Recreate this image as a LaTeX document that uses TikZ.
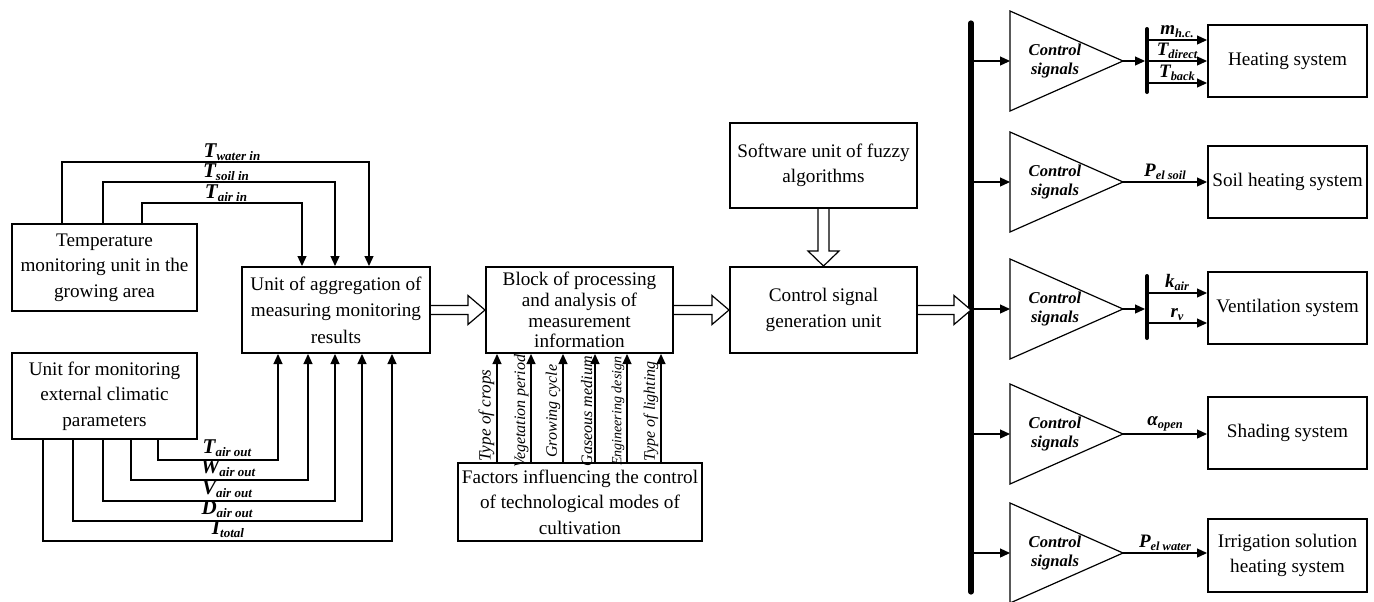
\documentclass[tikz,border=0pt]{standalone}
\usepackage{fontspec}
\setmainfont{Liberation Serif}
\usetikzlibrary{arrows.meta,calc}
\newcommand\symL[2]{{\fontsize{10.5}{11}\selectfont\bfseries\itshape #1\raisebox{-0.35ex}{\fontsize{6.5}{7}\selectfont #2}}}
\newcommand\symR[2]{{\fontsize{9.5}{10}\selectfont\bfseries\itshape #1\raisebox{-0.35ex}{\fontsize{6.2}{7}\selectfont #2}}}
\newcommand\hollowR[2]{\draw[hollow] ($(#1)+(0,-4.5)$) -- ($(#2)+(-17,-4.5)$) -- ($(#2)+(-17,-14.5)$) -- (#2) -- ($(#2)+(-17,14.5)$) -- ($(#2)+(-17,4.5)$) -- ($(#1)+(0,4.5)$);}
\newcommand\ctri[2]{%
  \draw[tri] (1010,#2-50) -- (1123,#2) -- (1010,#2+50) -- cycle;
  \coordinate (#1w) at (1010,#2);
  \coordinate (#1e) at (1123,#2);
  \node[ctext] (#1t) at (1055,#2) {Control\\signals};
}
\begin{document}
\begin{tikzpicture}[x=0.5pt,y=-0.5pt,
  box/.style={draw,line width=1pt,align=center,inner sep=0pt,font=\fontsize{9.6}{12.8}\selectfont},
  conn/.style={line width=0.6pt},
  arr/.style={conn,-{Triangle[length=5pt,width=4.5pt]}},
  hollow/.style={line width=0.6pt,fill=white},
  tri/.style={line width=0.6pt},
  bus/.style={line width=2.6pt,line cap=round},
  sbus/.style={line width=2pt,line cap=round},
  ctext/.style={align=center,inner sep=0pt,font=\fontsize{8.3}{9.2}\selectfont\bfseries\itshape},
  vlab/.style={font=\fontsize{8}{8}\selectfont\itshape,sloped,above,inner sep=1pt,midway},
  lab/.style={inner sep=1pt,anchor=south},
  slab/.style={above,inner sep=1pt}]
\useasboundingbox (0,0) rectangle (1374,601);

% boxes
\node[box,minimum width=92.5pt,minimum height=43.5pt] (temp) at (104.5,267.5) {Temperature\\monitoring unit in the\\growing area};
\node[box,minimum width=92.5pt,minimum height=43pt] (ext) at (104.5,396) {Unit for monitoring\\external climatic\\parameters};
\node[box,minimum width=94pt,minimum height=43pt,font=\fontsize{9.6}{13.2}\selectfont] (agg) at (336,310) {Unit of aggregation of\\measuring monitoring\\results};
\node[box,minimum width=93.5pt,minimum height=43pt,font=\fontsize{9.6}{10.4}\selectfont] (blk) at (579.5,310) {Block of processing\\and analysis of\\measurement\\information};
\node[box,minimum width=122pt,minimum height=39pt] (fac) at (580,502) {Factors influencing the control\\of technological modes of\\cultivation};
\node[box,minimum width=93.5pt,minimum height=42.5pt] (sw) at (823.5,165.5) {Software unit of fuzzy\\algorithms};
\node[box,minimum width=93.5pt,minimum height=43pt] (csg) at (823.5,310) {Control signal\\generation unit};
\node[box,minimum width=79.5pt,minimum height=36pt] (heat) at (1287.5,61) {Heating system};
\node[box,minimum width=79.5pt,minimum height=36pt] (soil) at (1287.5,182) {Soil heating system};
\node[box,minimum width=79.5pt,minimum height=36pt] (vent) at (1287.5,308) {Ventilation system};
\node[box,minimum width=79.5pt,minimum height=36pt] (shade) at (1287.5,433) {Shading system};
\node[box,minimum width=79.5pt,minimum height=36.5pt] (irr) at (1287.5,555.5) {Irrigation solution\\heating system};

% temperature inputs
\draw[arr] ([xshift=25.5pt]temp.north west) -- ++(0,-61) -| ([xshift=64pt]agg.north west);
\draw[arr] ([xshift=46pt]temp.north west) -- ++(0,-41) -| ([xshift=47pt]agg.north west);
\draw[arr] ([xshift=65.5pt]temp.north west) -- ++(0,-20) -| ([xshift=30.5pt]agg.north west);
\node[lab] (Lw) at (232,163) {\symL{T}{water in}};
\node[lab] (Ls) at (226,183) {\symL{T}{soil in}};
\node[lab] (La) at (226,204) {\symL{T}{air in}};

% external inputs
\draw[arr] ([xshift=73.5pt]ext.south west) -- ++(0,20) -| ([xshift=18.5pt]agg.south west);
\draw[arr] ([xshift=60pt]ext.south west) -- ++(0,40) -| ([xshift=33.5pt]agg.south west);
\draw[arr] ([xshift=46pt]ext.south west) -- ++(0,61) -| ([xshift=47pt]agg.south west);
\draw[arr] ([xshift=31pt]ext.south west) -- ++(0,81) -| ([xshift=60.5pt]agg.south west);
\draw[arr] ([xshift=16pt]ext.south west) -- ++(0,101) -| ([xshift=75.5pt]agg.south west);
\node[lab] (Lto) at (227,459) {\symL{T}{air out}};
\node[lab] (Lwo) at (228,479) {\symL{W}{air out}};
\node[lab] (Lvo) at (227,500) {\symL{V}{air out}};
\node[lab] (Ldo) at (227,520) {\symL{D}{air out}};
\node[lab] (Lio) at (228,540) {\symL{I}{total}};

% factors
\draw[arr] ([xshift=20pt]fac.north west) -- node[vlab,font=\fontsize{8.6}{9}\selectfont\itshape,pos=0.43]{Type of crops} ([xshift=6pt]blk.south west);
\draw[arr] ([xshift=37pt]fac.north west) -- node[vlab,pos=0.47]{Vegetation period} ([xshift=23pt]blk.south west);
\draw[arr] ([xshift=53pt]fac.north west) -- node[vlab,pos=0.47]{Growing cycle} ([xshift=39pt]blk.south west);
\draw[arr] ([xshift=69pt]fac.north west) -- node[vlab,pos=0.47]{Gaseous medium} ([xshift=55pt]blk.south west);
\draw[arr] ([xshift=85pt]fac.north west) -- node[vlab,pos=0.47,font=\fontsize{7}{7}\selectfont\itshape]{Engineering design} ([xshift=71pt]blk.south west);
\draw[arr] ([xshift=102pt]fac.north west) -- node[vlab,pos=0.47]{Type of lighting} ([xshift=88pt]blk.south west);

% bus
\coordinate (bustop) at (971,23);
\coordinate (busbot) at (971,592);
\draw[bus] (bustop) -- (busbot);
\coordinate (busmid) at (bustop |- csg.east);

% hollow arrows
\hollowR{agg.east}{blk.west}
\hollowR{blk.east}{csg.west}
\hollowR{csg.east}{busmid}
\draw[hollow] ($(sw.south)+(-5.5,0)$) -- ($(csg.north)+(-5.5,-15)$) -- ($(csg.north)+(-15.5,-15)$) -- (csg.north) -- ($(csg.north)+(15.5,-15)$) -- ($(csg.north)+(5.5,-15)$) -- ($(sw.south)+(5.5,0)$);

% triangles
\ctri{ta}{61}
\ctri{tb}{182}
\ctri{tc}{309}
\ctri{td}{434}
\ctri{te}{553}
\foreach \t in {ta,tb,tc,td,te}{\draw[arr] (bustop |- \t w) -- (\t w);}

% heating
\coordinate (hbt) at (1147,29);
\coordinate (hbb) at (1147,92);
\draw[sbus] (hbt) -- (hbb);
\draw[arr,shorten >=1pt] (tae) -- (tae -| hbt);
\coordinate (h1) at ([yshift=10.5pt]heat.west);
\coordinate (h2) at (heat.west);
\coordinate (h3) at ([yshift=-11pt]heat.west);
\draw[arr] (h1 -| hbt) -- node[slab]{\symR{m}{h.c.}} (h1);
\draw[arr] (h2 -| hbt) -- node[slab]{\symR{T}{direct}} (h2);
\draw[arr] (h3 -| hbt) -- node[slab]{\symR{T}{back}} (h3);

% soil
\draw[arr] (tbe) -- node[slab]{\symR{P}{el soil}} (tbe -| soil.west);

% ventilation
\coordinate (vbt) at (1147,276);
\coordinate (vbb) at (1147,338);
\draw[sbus] (vbt) -- (vbb);
\draw[arr,shorten >=1pt] (tce) -- (tce -| vbt);
\coordinate (v1) at ([yshift=7.5pt]vent.west);
\coordinate (v2) at ([yshift=-7.5pt]vent.west);
\draw[arr] (v1 -| vbt) -- node[slab]{\symR{k}{air}} (v1);
\draw[arr] (v2 -| vbt) -- node[slab]{\symR{r}{v}} (v2);

% shading
\draw[arr] (tde) -- node[slab]{\symR{α}{open}} (tde -| shade.west);

% irrigation
\draw[arr] (tee) -- node[slab]{\symR{P}{el water}} (tee -| irr.west);
\end{tikzpicture}
\end{document}
